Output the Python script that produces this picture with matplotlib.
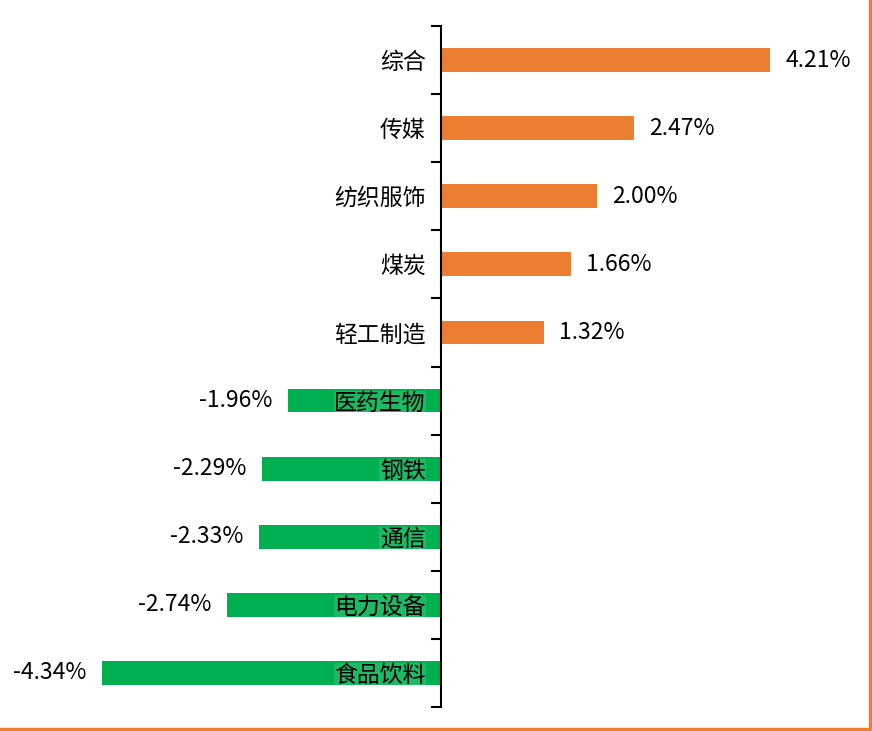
import matplotlib
matplotlib.use('Agg')
import matplotlib.pyplot as plt
from matplotlib.lines import Line2D

plt.rcParams['font.family'] = ['Noto Sans CJK SC', 'DejaVu Sans']

# data, top to bottom
industries = ['综合', '传媒', '纺织服饰', '煤炭', '轻工制造',
              '医药生物', '钢铁', '通信', '电力设备', '食品饮料']
changes = [4.21, 2.47, 2.00, 1.66, 1.32, -1.96, -2.29, -2.33, -2.74, -4.34]

orange = '#ED7D31'
green = '#00B050'

fig = plt.figure(figsize=(8.72, 7.31), dpi=100)
ax = fig.add_axes([0.0, 1 - 707 / 731, 1.0, (707 - 26) / 731])

n = len(industries)
ypos = list(range(n))
colors = [orange if v >= 0 else green for v in changes]
ax.barh(ypos, changes, height=0.35, color=colors, zorder=1)

ax.set_xlim(-441 / 78.1, (872 - 441) / 78.1)
ax.set_ylim(n - 0.5, -0.5)

# value labels outside the bars
for y, v in zip(ypos, changes):
    if v >= 0:
        ax.annotate(f'{v:.2f}%', (v, y), xytext=(11, 0), textcoords='offset points',
                    ha='left', va='center', fontsize=16.5)
    else:
        ax.annotate(f'{v:.2f}%', (v, y), xytext=(-11, 0), textcoords='offset points',
                    ha='right', va='center', fontsize=16.5)

# spines / ticks
for s in ['top', 'right', 'bottom']:
    ax.spines[s].set_visible(False)
ax.spines['left'].set_position(('data', 0))
ax.spines['left'].set_linewidth(1.5)
ax.xaxis.set_visible(False)

ax.set_yticks(ypos)
ax.set_yticklabels(industries, fontsize=16.5)
ax.tick_params(axis='y', which='major', length=0, pad=11)
ax.set_yticks([i - 0.5 for i in range(n + 1)], minor=True)
ax.tick_params(axis='y', which='minor', length=7, width=1.5, direction='out')
for lab, v in zip(ax.get_yticklabels(), changes):
    if v < 0:
        lab.set_bbox(dict(facecolor='white', alpha=0.12, edgecolor='none', pad=0.5))

# orange frame on right and bottom
fig.add_artist(Line2D([0, 869.5 / 872, 869.5 / 872], [2 / 731, 2 / 731, 1],
                      transform=fig.transFigure, color=orange, lw=2.5))

fig.savefig('out.png', dpi=100)
